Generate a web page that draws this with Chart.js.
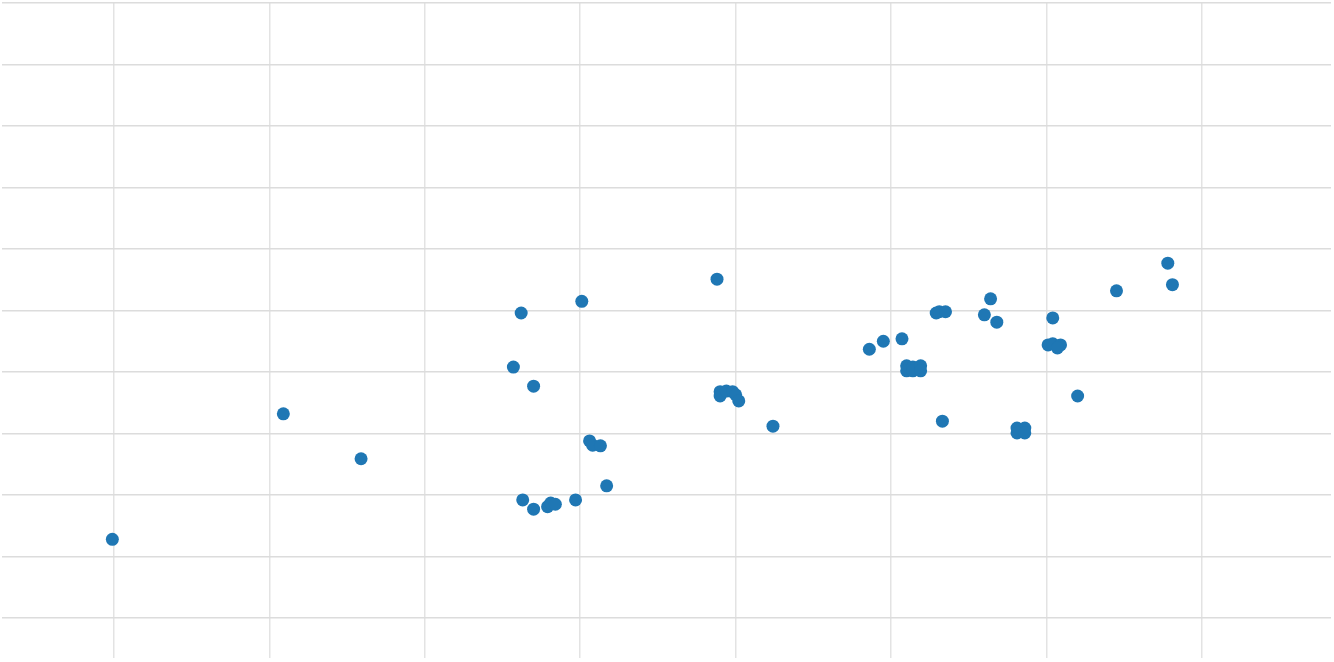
<!DOCTYPE html>
<html>
<head>
<meta charset="utf-8">
<script src="https://cdn.jsdelivr.net/npm/chart.js@4/dist/chart.umd.min.js"></script>
<style>
    body { margin: 0; background: #fff; }
    canvas { display: block; }
</style>
</head>
<body>
<canvas id="scatterChart" width="1334" height="662"></canvas>
<script>
// Sample data
const xValues = [
    0.99, 2.09, 2.59, 3.57, 3.62, 3.70, 4.01, 4.06, 4.08, 4.13,
    4.17, 3.63, 3.70, 3.79, 3.81, 3.84, 3.97, 4.88, 4.90, 4.90,
    4.94, 4.98, 5.00, 5.02, 5.24, 5.86, 5.95, 6.07, 6.10, 6.10,
    6.14, 6.14, 6.19, 6.19, 6.29, 6.31, 6.35, 6.33, 6.60, 6.64,
    6.68, 6.81, 6.86, 6.81, 6.86, 7.04, 7.01, 7.04, 7.09, 7.07,
    7.20, 7.45, 7.78, 7.81
];
const yValues = [
    1.28, 3.32, 2.59, 4.08, 4.96, 3.77, 5.15, 2.88, 2.81, 2.80,
    2.15, 1.92, 1.77, 1.81, 1.87, 1.85, 1.92, 5.51, 3.68, 3.61,
    3.69, 3.68, 3.63, 3.53, 3.12, 4.37, 4.50, 4.54, 4.10, 4.02,
    4.08, 4.02, 4.10, 4.02, 4.96, 4.98, 4.98, 3.20, 4.93, 5.19,
    4.81, 3.09, 3.09, 3.01, 3.01, 4.88, 4.44, 4.46, 4.44, 4.39,
    3.61, 5.32, 5.77, 5.42
];

// Axis ranges
const xMin = 0.28, xMax = 8.83;
const yMin = -0.65, yMax = 10;

const points = xValues.map((x, i) => ({ x: x, y: yValues[i] }));

const ctx = document.getElementById("scatterChart").getContext("2d");
new Chart(ctx, {
    type: "scatter",
    data: {
        datasets: [
            {
                data: points,
                backgroundColor: "#1f77b4",
                borderWidth: 0,
                pointRadius: 6.5,
                pointHoverRadius: 6.5,
            },
        ],
    },
    options: {
        responsive: false,
        animation: false,
        layout: { autoPadding: false, padding: { left: 2, right: 3, top: 3, bottom: 4 } },
        plugins: {
            legend: { display: false },
            tooltip: { enabled: false },
        },
        scales: {
            x: {
                type: "linear",
                min: xMin,
                max: xMax,
                ticks: { display: false, stepSize: 1, includeBounds: false },
                grid: { color: "#e3e3e3", lineWidth: 1.5, drawTicks: false },
                border: { display: false },
            },
            y: {
                type: "linear",
                min: yMin,
                max: yMax,
                ticks: { display: false, stepSize: 1, includeBounds: false },
                grid: { color: "#dcdcdc", lineWidth: 1.5, drawTicks: false },
                border: { display: false },
            },
        },
    },
});
</script>
</body>
</html>
